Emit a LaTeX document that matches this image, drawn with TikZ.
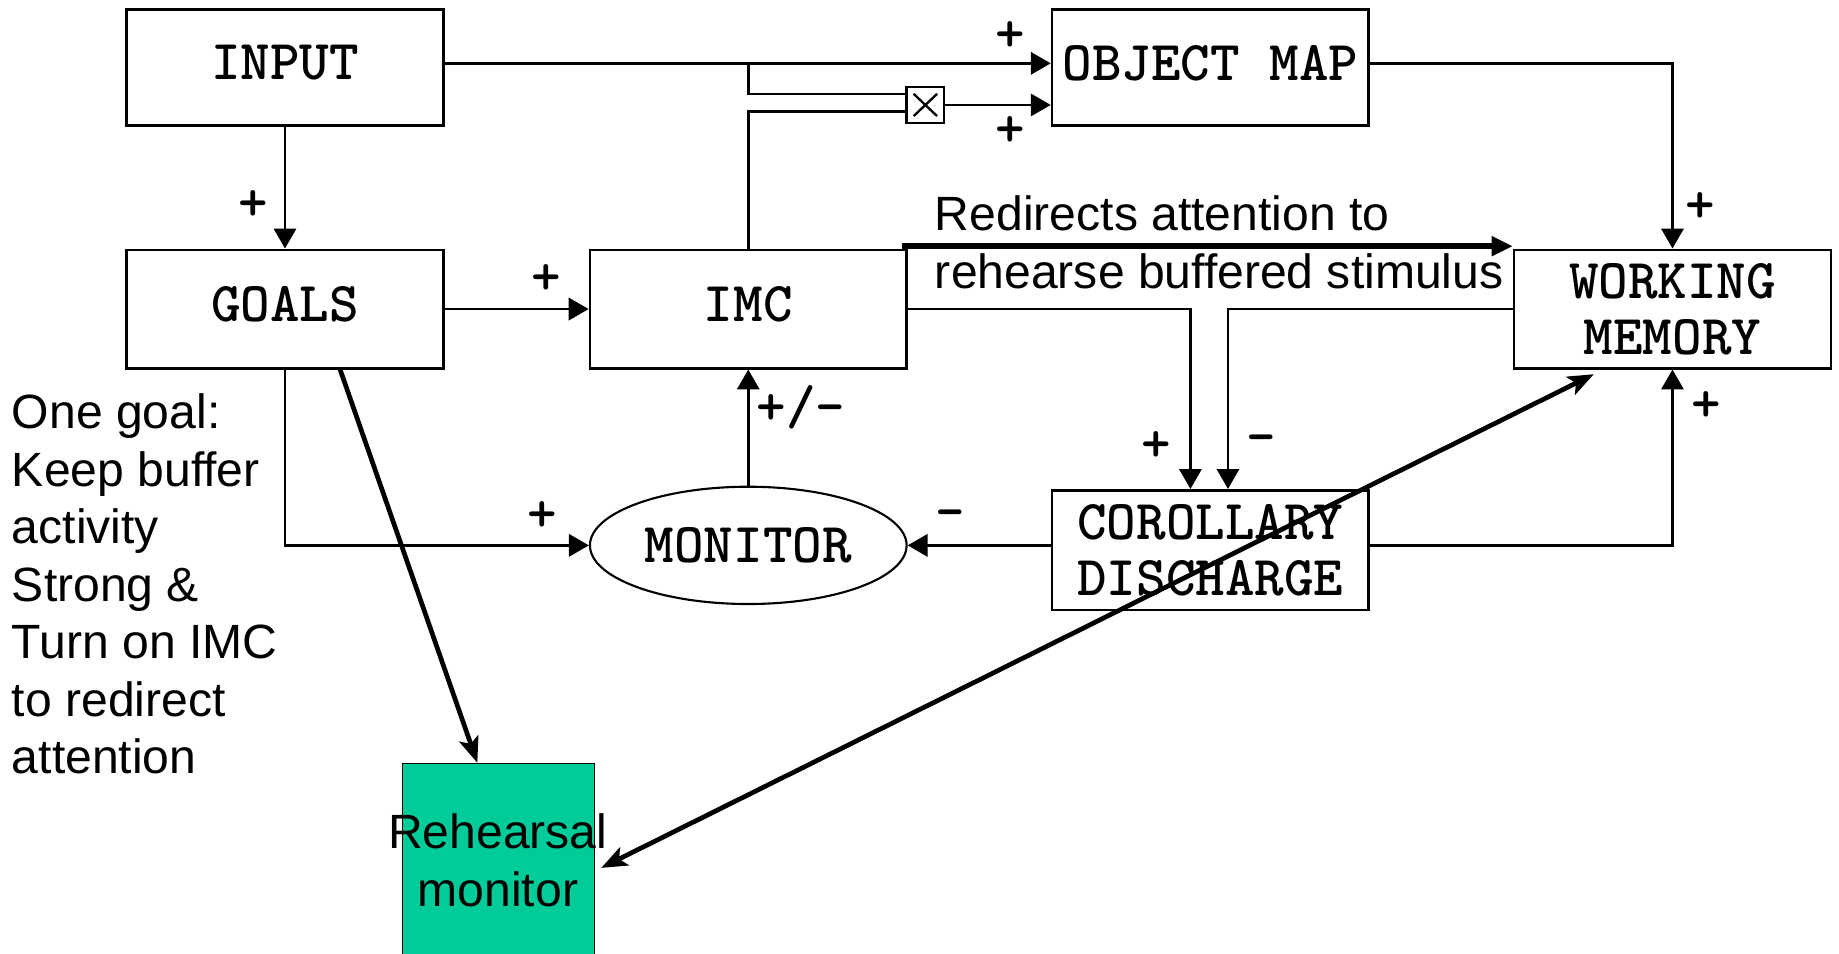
\documentclass[tikz,border=0pt]{standalone}
\usepackage{fontspec}
\setmainfont{Liberation Sans}
\newfontfamily\dgmonofam{lmmonolt10-bold.otf}
\usetikzlibrary{arrows.meta,shapes.geometric,calc}
\newcommand\dgmono{\dgmonofam\fontsize{48}{48}\selectfont}
\newcommand\dgsans{\fontsize{41}{49}\selectfont}
\begin{document}
\begin{tikzpicture}[x=1pt,y=-1pt,
  box/.style={draw,line width=2.2pt,minimum width=270pt,minimum height=100pt,
    inner sep=0pt,font=\dgmono,align=center},
  oneline/.style={text depth=8pt},
  ln/.style={line width=2.2pt},
  arr/.style={ln,-{Triangle[length=17pt,width=19pt]}},
  thick arr/.style={line width=4.8pt,-{Triangle[length=18pt,width=16pt]}},
  heavy/.style={line width=4pt},
  sign/.style={font=\dgmono,inner sep=0pt},
  note/.style={font=\dgsans,inner sep=0pt}]
\useasboundingbox (0,0) rectangle (1568,813);
\fill[white] (0,0) rectangle (1568,813);

% blocks
\node[box,oneline,minimum height=99pt] (in) at (243,57.5) {INPUT};
\node[box,oneline,minimum height=99pt] (om) at (1032,57.5) {OBJECT MAP};
\node[box,oneline,minimum height=101pt] (goals) at (243,263.5) {GOALS};
\node[box,oneline,minimum height=101pt] (imc) at (638,263.5) {IMC};
\node[box,minimum height=101pt] (wm) at (1426,263.5) {WORKING\\MEMORY};
\node[box,minimum height=102pt] (cd) at (1032,469) {COROLLARY\\DISCHARGE};
\node[box,ellipse,line width=1.8pt,minimum height=100pt] (mon) at (638,465) {MONITOR};
\node[draw,line width=2pt,minimum width=32pt,minimum height=31pt,inner sep=0pt] (mult) at (789,89.5) {};
\draw[line width=2pt] ($(mult.north west)+(7,7)$) -- ($(mult.south east)+(-7,-7)$)
  ($(mult.north east)+(-7,7)$) -- ($(mult.south west)+(7,-7)$);
\node[draw,line width=1.2pt,fill={rgb,255:red,0;green,204;blue,153},
  minimum width=164pt,minimum height=200pt,inner sep=0pt] (rm) at (425,751) {};
\node[note,align=center] (rmtext) at (424.5,733.7) {Rehearsal\\monitor};

% signal paths
\coordinate (split) at (638,54);
\draw[arr] ([yshift=3.5pt]in.east) -- ([yshift=3.5pt]om.west);
\draw[ln] (split) |- ([yshift=9.5pt]mult.west);
\draw[ln] (imc.north) |- ([yshift=-5.5pt]mult.west);
\draw[arr] (mult.east) -- (mult.east -| om.west);
\draw[arr] ([yshift=3.5pt]om.east) -| (wm.north);
\draw[arr] (in.south) -- (goals.north);
\draw[arr] (goals.east) -- (imc.west);
\draw[arr] (imc.east) -| ([xshift=-17pt]cd.north);
\draw[arr] (wm.west) -| ([xshift=15pt]cd.north);
\draw[arr] (mon.east -| cd.west) -- (mon.east);
\draw[arr] (mon.east -| cd.east) -| (wm.south);
\draw[arr] (goals.south) |- (mon.west);
\draw[arr] (mon.north) -- (imc.south);

% rehearsal paths
\draw[thick arr] ([xshift=-5pt,yshift=2pt]imc.north east) -- ([yshift=2pt]wm.north west);
\draw[heavy,-{Stealth[length=22pt,width=17pt,inset=5pt]}]
  ([xshift=47pt]goals.south) -- ([xshift=-18pt]rm.north);
\draw[heavy,{Stealth[length=22pt,width=17pt,inset=5pt]}-{Stealth[length=22pt,width=17pt,inset=5pt]}]
  ([xshift=5pt,yshift=11pt]rm.east) -- ([xshift=69pt,yshift=-4pt]wm.south west);

% signs
\node[sign] (s1) at (861,31) {+};
\node[sign] (s2) at (861,112) {+};
\node[sign] (s3) at (216,175) {+};
\node[sign] (s4) at (466,238) {+};
\node[sign] (s5) at (1450,177) {+};
\node[sign] (s6) at (986,381) {+};
\node[sign] (s7) at (1075,379) {-};
\node[sign] (s8) at (810,443) {-};
\node[sign] (s9) at (1455,347) {+};
\node[sign] (s10) at (462,440) {+};
\node[sign] (s11) at (683,347) {+/-};

% annotations
\node[note,align=left,anchor=west] (redir) at (797,206.8)
  {Redirects attention to\\rehearse buffered stimulus};
\node[note,align=left,anchor=west] (goalnote) at (10,498)
  {One goal:\\Keep buffer\\activity\\Strong \&\\Turn on IMC\\to redirect\\attention};
\end{tikzpicture}
\end{document}
